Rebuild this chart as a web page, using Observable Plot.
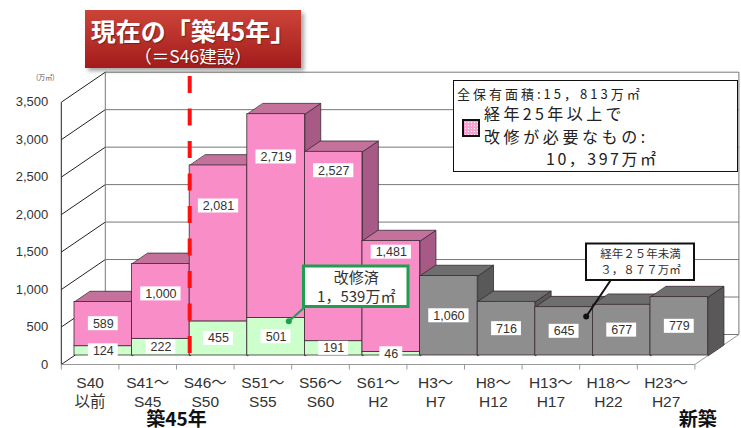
<!DOCTYPE html>
<html><head><meta charset="utf-8">
<script src="https://cdn.jsdelivr.net/npm/d3@7"></script>
<script src="https://cdn.jsdelivr.net/npm/@observablehq/plot@0.6"></script>
<style>
body{margin:0;background:#fff;}
#wrap{position:relative;width:741px;height:428px;overflow:hidden;background:#fff;font-family:"Noto Sans CJK JP","Noto Sans",sans-serif;}
#wrap svg{position:absolute;left:0;top:0;}
#title{position:absolute;left:85px;top:10px;width:216px;height:58px;background:linear-gradient(#cc4438,#a31c1c);box-shadow:3px 3px 4px rgba(0,0,0,0.35);color:#fff;text-align:center;text-shadow:1px 1px 1px rgba(0,0,0,0.35);}
#title .l1{font-size:25px;font-weight:700;line-height:30px;margin-top:5px;white-space:nowrap;}
#title .l2{font-size:17.5px;line-height:22px;white-space:nowrap;}
#legend{position:absolute;left:453px;top:80px;width:283px;height:90px;border:1.5px solid #111;background:#fff;color:#222;}
#legend div{position:absolute;white-space:nowrap;}
#swatch{left:8px;top:38px;width:14px;height:14px;border:2px solid #111;background-color:#f6a2d2;background-image:radial-gradient(#fff 35%,transparent 40%);background-size:3px 3px;}
</style></head><body><div id="wrap">
<div id="title"><div class="l1">現在の「築45年」</div><div class="l2">（＝S46建設）</div></div>
</div>
<script>
// ---- data ----
const categories1 = ["S40","S41～","S46～","S51～","S56～","S61～","H3～","H8～","H13～","H18～","H23～"];
const categories2 = ["以前","S45","S50","S55","S60","H2","H7","H12","H17","H22","H27"];
const repaired   = [124, 222, 455, 501, 191, 46, 0, 0, 0, 0, 0];       // 改修済
const needRepair = [589, 1000, 2081, 2719, 2527, 1481, 0, 0, 0, 0, 0]; // 経年25年以上で改修が必要なもの
const under25    = [0, 0, 0, 0, 0, 0, 1060, 716, 645, 677, 779];        // 経年25年未満
const yTicks = [0, 500, 1000, 1500, 2000, 2500, 3000, 3500];

// ---- layout ----
const PXX = 57.6, PXY = 262.3 / 3500, X0 = 74, Y0 = 355;
const ZF = 0.3, ZB = 0.66, DX = 44, DY = 30;
const P = (i, v, z) => ({x: i + (z - ZF) * DX / PXX, y: v + (z - ZF) * DY / PXY});
const labelFrac = [0.51, 0.6, 0.74, 0.79, 0.9, 0.9];
const COL = {pinkF:"#F88DC8", pinkT:"#C4729C", pinkS:"#A65A85", greenF:"#CCFFCC", greenS:"#9ED69E",
             grayF:"#8E8E8E", grayT:"#6E6E6E", grayS:"#595959"};
const fmt = d3.format(",");
const N = categories1.length;

const bars = categories1.map((c, i) => {
  const segs = [];
  if (repaired[i]) segs.push({y0: 0, y1: repaired[i], f: COL.greenF, s: COL.greenS});
  if (needRepair[i]) segs.push({y0: repaired[i], y1: repaired[i] + needRepair[i], f: COL.pinkF, s: COL.pinkS, t: COL.pinkT});
  if (under25[i]) segs.push({y0: 0, y1: under25[i], f: COL.grayF, s: COL.grayS, t: COL.grayT});
  const last = segs[segs.length - 1];
  return {i, segs, total: last.y1, top: last.t};
});

const sidePts = [], topPts = [], fronts = [];
bars.forEach(b => {
  b.segs.forEach((s, k) => {
    const id = `s${b.i}-${k}`;
    [P(b.i+1, s.y0, ZF), P(b.i+1, s.y1, ZF), P(b.i+1, s.y1, ZB), P(b.i+1, s.y0, ZB)]
      .forEach(p => sidePts.push({...p, id, fill: s.s}));
    fronts.push({x1: b.i, x2: b.i + 1, y1: s.y0, y2: s.y1, fill: s.f});
  });
  const id = `t${b.i}`;
  [P(b.i, b.total, ZF), P(b.i+1, b.total, ZF), P(b.i+1, b.total, ZB), P(b.i, b.total, ZB)]
    .forEach(p => topPts.push({...p, id, fill: b.top}));
});

// value labels
const ctx = document.createElement("canvas").getContext("2d");
const LFONT = 12.5;
ctx.font = `${LFONT}px "Liberation Sans"`;
const labels = [];
categories1.forEach((c, i) => {
  if (repaired[i]) {
    labels.push({cx: i + 0.5, cy: repaired[i] / 2, t: fmt(repaired[i])});
    labels.push({cx: i + 0.5, cy: repaired[i] + needRepair[i] * labelFrac[i], t: fmt(needRepair[i])});
  }
  if (under25[i]) labels.push({cx: i + 0.5, cy: under25[i] / 2, t: fmt(under25[i])});
});
labels.forEach(l => {
  const w = (ctx.measureText(l.t).width + 9) / PXX / 2, h = 7 / PXY;
  Object.assign(l, {x1: l.cx - w, x2: l.cx + w, y1: l.cy - h, y2: l.cy + h});
});

// annotations (data units)
const pxX = px => (px - X0) / PXX, pxY = py => (Y0 - py) / PXY;
const greenBox = {x1: pxX(303.5), x2: pxX(408), y1: pxY(306.5), y2: pxY(266)};
const grayBox = {x1: pxX(586), x2: pxX(694), y1: pxY(280), y2: pxY(243.5)};

const font = '"Liberation Sans","Noto Sans CJK JP",sans-serif';
const jfont = '"Noto Sans CJK JP",sans-serif';

const chart = Plot.plot({
  width: 741, height: 428,
  x: {domain: [0, 11], range: [X0, X0 + 11 * PXX], axis: null},
  y: {domain: [0, 3500], range: [Y0, Y0 - 3500 * PXY], axis: null},
  color: {type: "identity"},
  style: {background: "transparent", fontFamily: font, overflow: "visible"},
  marks: [
    // back wall grid
    Plot.link(yTicks, {x1: d => P(0, d, 1).x, y1: d => P(0, d, 1).y, x2: d => P(N, d, 1).x, y2: d => P(N, d, 1).y, stroke: "#777", strokeWidth: 1}),
    // left wall diagonals
    Plot.link(yTicks, {x1: d => P(0, d, 0).x, y1: d => P(0, d, 0).y, x2: d => P(0, d, 1).x, y2: d => P(0, d, 1).y, stroke: "#222", strokeWidth: 1}),
    // verticals: axis + back wall edges
    Plot.link([[0, 0], [0, 1], [N, 1]], {x1: d => P(d[0], 0, d[1]).x, y1: d => P(d[0], 0, d[1]).y, x2: d => P(d[0], 3500, d[1]).x, y2: d => P(d[0], 3500, d[1]).y, stroke: d => d[1] === 0 ? "#222" : "#777", strokeWidth: 1}),
    // floor edges
    Plot.link([0], {x1: P(0, 0, 0).x, y1: P(0, 0, 0).y, x2: P(N, 0, 0).x, y2: P(N, 0, 0).y, stroke: "#999", strokeWidth: 1}),
    Plot.link([0], {x1: P(N, 0, 0).x, y1: P(N, 0, 0).y, x2: P(N, 0, 1).x, y2: P(N, 0, 1).y, stroke: "#999", strokeWidth: 1}),
    Plot.link(d3.range(N + 1), {x1: d => P(d, 0, 0).x, y1: d => P(d, 0, 0).y, x2: d => P(d, 0, 0).x, y2: d => P(d, 0, 0).y - 5 / PXY, stroke: "#999", strokeWidth: 1}),
    // bars
    Plot.line(sidePts, {x: "x", y: "y", z: "id", fill: "fill", stroke: "#3a2a33", strokeWidth: 0.8, curve: "linear-closed"}),
    Plot.line(topPts, {x: "x", y: "y", z: "id", fill: "fill", stroke: "#3a2a33", strokeWidth: 0.8, curve: "linear-closed"}),
    Plot.rect(fronts, {x1: "x1", x2: "x2", y1: "y1", y2: "y2", fill: "fill", stroke: "#3a2a33", strokeWidth: 0.8}),
    // 築45年 line
    Plot.ruleX([2], {y1: pxY(353), y2: pxY(75), stroke: "#ff1010", strokeWidth: 4, strokeDasharray: "17,15.5"}),
    // value labels
    Plot.rect(labels, {x1: "x1", x2: "x2", y1: "y1", y2: "y2", fill: "white"}),
    Plot.text(labels, {x: "cx", y: "cy", text: "t", fontSize: LFONT, fill: "#333", fontFamily: '"Liberation Sans",sans-serif'}),
    // green callout
    Plot.link([0], {x1: pxX(288.3), y1: pxY(320.7), x2: pxX(305), y2: pxY(306), stroke: "#1f9e4f", strokeWidth: 2}),
    Plot.dot([0], {x: pxX(288.3), y: pxY(320.7), r: 3, fill: "#1f9e4f"}),
    Plot.rect([greenBox], {x1: "x1", x2: "x2", y1: "y1", y2: "y2", fill: "white", stroke: "#1f9e4f", strokeWidth: 3}),
    Plot.text(["改修済", "1，539万㎡"], {x: (greenBox.x1 + greenBox.x2) / 2, y: (d, i) => pxY(277.5 + i * 19), text: d => d, fontSize: 15, fill: "#333", fontFamily: jfont}),
    // gray callout
    Plot.link([0], {x1: pxX(585.7), y1: pxY(316), x2: pxX(610), y2: pxY(280), stroke: "#111", strokeWidth: 2}),
    Plot.dot([0], {x: pxX(585.7), y: pxY(316), r: 3, fill: "#111"}),
    Plot.rect([grayBox], {x1: "x1", x2: "x2", y1: "y1", y2: "y2", fill: "white", stroke: "#111", strokeWidth: 2}),
    Plot.text(["経年２５年未満", "３，８７７万㎡"], {x: (grayBox.x1 + grayBox.x2) / 2, y: (d, i) => pxY(254 + i * 16), text: d => d, fontSize: 11.5, fill: "#333", fontFamily: jfont}),
    // y axis labels
    Plot.text(yTicks, {x: d => P(0, d, 0).x, y: d => P(0, d, 0).y, text: d => fmt(d), dx: -13, textAnchor: "end", fontSize: 13, fill: "#333", fontFamily: '"Liberation Sans",sans-serif'}),
    Plot.text(["(万㎡)"], {x: P(0, 3500, 0).x, y: P(0, 3500, 0).y, text: d => d, dx: -16, dy: -24, fontSize: 7, fill: "#555", fontFamily: jfont}),
    // x labels
    Plot.text(categories1, {x: (d, i) => P(i + 0.5, 0, 0).x, y: P(0, 0, 0).y, text: d => d, dy: 19, fontSize: 15.5, fill: "#333"}),
    Plot.text(categories2, {x: (d, i) => P(i + 0.5, 0, 0).x, y: P(0, 0, 0).y, text: d => d, dy: 38, fontSize: 15.5, fill: "#333"}),
    Plot.text(["築45年"], {x: P(2, 0, 0).x, y: P(0, 0, 0).y, text: d => d, dy: 55, fontSize: 19, fontWeight: "bold", fill: "#111", fontFamily: jfont}),
    Plot.text(["新築"], {x: P(N, 0, 0).x + 0.05, y: P(0, 0, 0).y, text: d => d, dy: 55, fontSize: 19, fontWeight: "bold", fill: "#111", fontFamily: jfont})
  ]
});
const wrap = document.getElementById("wrap");
wrap.insertBefore(chart, wrap.firstChild);

// legend box
const legend = document.createElement("div");
legend.id = "legend";
legend.innerHTML = `
<div style="left:3px;top:5px;font-size:13px;line-height:16px;letter-spacing:3px;">全保有面積:15，813万㎡</div>
<div id="swatch"></div>
<div style="left:30px;top:22px;font-size:16px;line-height:20px;letter-spacing:3.4px;">経年25年以上で</div>
<div style="left:30px;top:45px;font-size:16px;line-height:20px;letter-spacing:3.6px;">改修が必要なもの:</div>
<div style="left:92px;top:67px;font-size:16px;line-height:20px;letter-spacing:2.5px;">10，397万㎡</div>`;
wrap.appendChild(legend);
</script>
</body></html>
